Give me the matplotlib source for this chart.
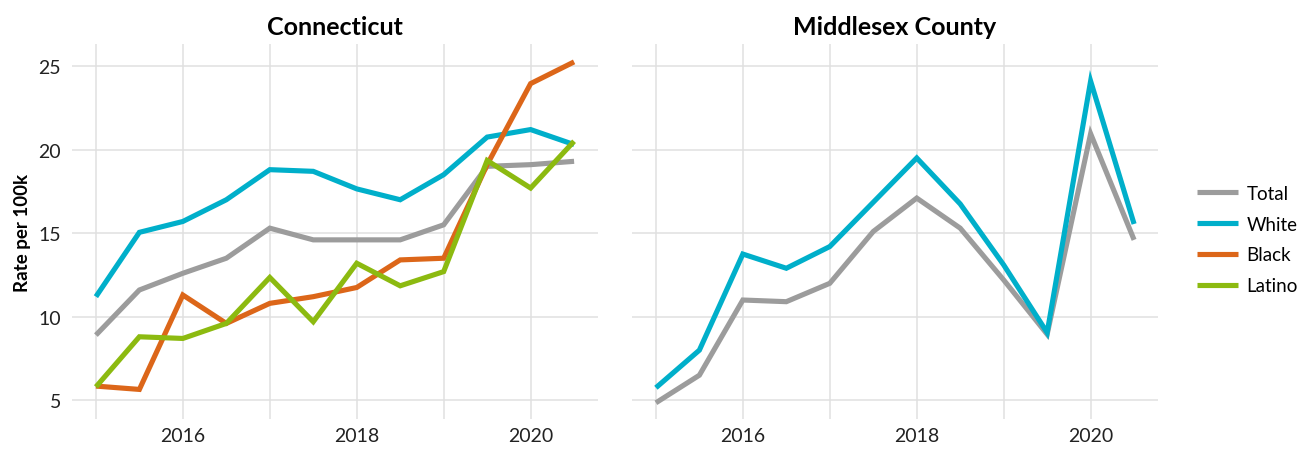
"""Overdose rate per 100k by race: Connecticut vs Middlesex County."""
import numpy as np
import matplotlib
matplotlib.use("Agg")
import matplotlib.pyplot as plt

plt.rcParams["font.family"] = ["Lato", "DejaVu Sans"]

years = [2015, 2015.5, 2016, 2016.5, 2017, 2017.5, 2018, 2018.5, 2019, 2019.5, 2020, 2020.5]

ct_total = [8.9, 11.6, 12.6, 13.5, 15.3, 14.6, 14.6, 14.6, 15.5, 19.0, 19.1, 19.3]
ct_white = [11.2, 15.05, 15.7, 17.0, 18.8, 18.7, 17.65, 17.0, 18.5, 20.75, 21.2, 20.3]
ct_black = [5.85, 5.65, 11.3, 9.6, 10.8, 11.2, 11.75, 13.4, 13.5, 19.1, 23.95, 25.25]
ct_latino = [5.8, 8.8, 8.7, 9.6, 12.35, 9.7, 13.2, 11.85, 12.7, 19.35, 17.7, 20.5]

mx_total = [4.85, 6.5, 11.0, 10.9, 12.0, 15.1, 17.1, 15.3, 12.2, 8.95, 20.95, 14.6]
mx_white = [5.75, 8.0, 13.75, 12.9, 14.2, 16.85, 19.5, 16.75, 13.1, 9.05, 24.1, 15.55]

groups = ["Total", "White", "Black", "Latino"]
colors = {"Total": "#9c9c9c", "White": "#00afca", "Black": "#dc6619", "Latino": "#8cba10"}

panels = [
    ("Connecticut", {"Total": ct_total, "White": ct_white, "Black": ct_black, "Latino": ct_latino}),
    ("Middlesex County", {"Total": mx_total, "White": mx_white}),
]

fig = plt.figure(figsize=(13.07, 4.52), dpi=100)
ax_l = fig.add_axes([72 / 1307, 32 / 452, 526 / 1307, 375 / 452])
ax_r = fig.add_axes([632 / 1307, 32 / 452, 526 / 1307, 375 / 452], sharey=ax_l)

for ax, (title, series) in zip([ax_l, ax_r], panels):
    for g in groups:
        if g in series:
            ax.plot(years, series[g], color=colors[g], lw=3.7, label=g,
                    solid_capstyle="butt", solid_joinstyle="miter")
    ax.set_title(title, fontsize=18, fontweight="bold", pad=7)
    ax.set_xlim(2014.725, 2020.775)
    ax.set_ylim(3.88, 26.32)
    ax.set_xticks([2016, 2018, 2020])
    ax.set_xticks([2015, 2017, 2019], minor=True)
    ax.set_yticks([5, 10, 15, 20, 25])
    ax.grid(True, which="both", color="#e0e0e0", lw=1.1)
    ax.set_axisbelow(True)
    for sp in ax.spines.values():
        sp.set_visible(False)
    ax.tick_params(which="both", length=0, labelsize=14, colors="#222222")
    ax.tick_params(axis="x", pad=6)
    ax.tick_params(axis="y", pad=8)

ax_r.tick_params(axis="y", labelleft=False)
ax_l.set_ylabel("Rate per 100k", fontsize=13.5, fontweight="bold", labelpad=5)

handles, labels = ax_l.get_legend_handles_labels()
fig.legend(handles, labels, loc="center left", bbox_to_anchor=(1180 / 1307, 0.468),
           frameon=False, fontsize=13.5, handlelength=2.2, handletextpad=0.45,
           labelspacing=0.74)

fig.savefig("out.png", dpi=100)
